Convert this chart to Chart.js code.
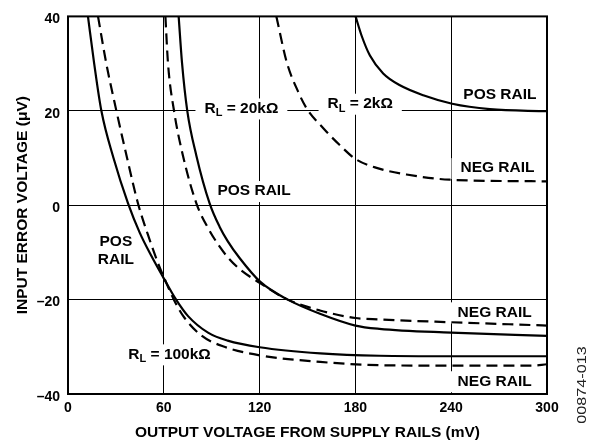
<!DOCTYPE html>
<html>
<head>
<meta charset="utf-8">
<script src="https://cdn.jsdelivr.net/npm/chart.js@4.4.0/dist/chart.umd.min.js"></script>
<style>
  body { margin: 0; background: #fff; }
  canvas { display: block; }
</style>
</head>
<body>
<canvas id="mycanvas" width="590" height="444"></canvas>
<script>
var xTicks = [0, 60, 120, 180, 240, 300];
var yTicks = [-40, -20, 0, 20, 40];

// RL = 100k
var x100kPos = [12.5, 16.4, 20.9, 28.5, 37.6, 44.9, 52, 60, 67.5, 75.2, 87.7, 100, 120, 158, 195, 240, 300];
var y100kPos = [40, 30, 20, 10, 0.4, -5.8, -10.6, -15.5, -19.9, -23.5, -27, -28.7, -30.1, -31.4, -31.9, -32, -32];
var x100kNeg = [18.8, 24, 30.3, 37, 43.8, 50, 57, 61, 66, 72, 83.5, 98, 120, 158, 195, 240, 290, 300];
var y100kNeg = [40, 30, 20, 10, 0.4, -6.2, -12.8, -16, -19.8, -23.4, -27.6, -30, -31.8, -33.2, -33.9, -34, -34, -33.7];

// RL = 20k
var x20kPos = [69.3, 71.4, 74.7, 80.4, 88.7, 95, 100, 107.7, 120.3, 137, 157.8, 180, 195, 240, 300];
var y20kPos = [40, 30.2, 20, 10.5, 0.4, -4.6, -7.6, -11.3, -16.2, -19.9, -23, -25.5, -26.2, -27, -27.7];
var x20kNeg = [61, 62.6, 66.4, 72, 80.4, 88, 95, 100, 107.7, 120.3, 137, 157.8, 180, 195, 240, 300];
var y20kNeg = [40, 30.2, 20, 10.5, 0.4, -5, -8.8, -11, -13.6, -16.5, -19.9, -22.3, -23.9, -24.2, -24.8, -25.5];

// RL = 2k
var x2kPos = [180.1, 183.9, 189.1, 197.4, 207.9, 222.5, 240.6, 264.2, 300];
var y2kPos = [40, 35.9, 31.7, 27.9, 25.4, 23.3, 21.5, 20.35, 19.9];
var x2kNeg = [130.5, 137, 144.2, 149.5, 159.9, 170, 180, 193.3, 212, 239, 300];
var y2kNeg = [40, 30.3, 24, 20.5, 16.3, 12.8, 9.8, 7.9, 6.5, 5.4, 5.05];

// curve labels, placed in data units
var labels = [
    {x: 108.6, y: 20.5, text: ['R', 'L', ' = 20k\u03A9']},
    {x: 183, y: 21.5, text: ['R', 'L', ' = 2k\u03A9']},
    {x: 270.5, y: 23.4, text: ['POS RAIL']},
    {x: 269, y: 7.85, text: ['NEG RAIL']},
    {x: 116.5, y: 3.0, text: ['POS RAIL']},
    {x: 30, y: -7.8, text: ['POS']},
    {x: 30, y: -11.6, text: ['RAIL']},
    {x: 267.2, y: -22.7, text: ['NEG RAIL']},
    {x: 63.6, y: -31.6, text: ['R', 'L', ' = 100k\u03A9']},
    {x: 267.2, y: -37.3, text: ['NEG RAIL']}
];

var FONT = "'Liberation Sans', Arial, sans-serif";
Chart.defaults.font.family = FONT;
Chart.defaults.color = '#000';

function pts(xs, ys) {
    var out = [];
    for (var i in xs) {
        out.push({x: xs[i], y: ys[i]});
    }
    return out;
}

function curve(xs, ys, dashed) {
    return {
        data: pts(xs, ys),
        borderColor: '#000',
        borderWidth: 2.2,
        borderDash: dashed ? [11, 6] : [],
        pointRadius: 0,
        fill: false,
        cubicInterpolationMode: 'monotone'
    };
}

var labelPlugin = {
    id: 'curveLabels',
    beforeDatasetsDraw: function (chart) {
        var ctx = chart.ctx;
        var sx = chart.scales.x, sy = chart.scales.y;
        var big = 'bold 15.5px ' + FONT, small = 'bold 11px ' + FONT;
        ctx.save();
        ctx.textBaseline = 'middle';
        ctx.textAlign = 'left';
        labels.forEach(function (lb) {
            var cx = sx.getPixelForValue(lb.x);
            var cy = sy.getPixelForValue(lb.y);
            var w = 0, widths = [];
            lb.text.forEach(function (t, i) {
                ctx.font = (lb.text.length > 1 && i === 1) ? small : big;
                var m = ctx.measureText(t).width;
                widths.push(m);
                w += m;
            });
            var x0 = cx - w / 2;
            ctx.fillStyle = '#fff';
            ctx.fillRect(x0 - 9, cy - 10, w + 18, 21);
            ctx.fillStyle = '#000';
            var x = x0;
            lb.text.forEach(function (t, i) {
                var sub = lb.text.length > 1 && i === 1;
                ctx.font = sub ? small : big;
                ctx.fillText(t, x, sub ? cy + 5 : cy);
                x += widths[i];
            });
        });
        ctx.restore();
    },
    afterDraw: function (chart) {
        var ctx = chart.ctx, a = chart.chartArea;
        ctx.save();
        ctx.strokeStyle = '#000';
        ctx.lineWidth = 2;
        ctx.strokeRect(a.left, a.top, a.right - a.left, a.bottom - a.top);
        // figure code on the right edge
        ctx.translate(583, 385);
        ctx.rotate(-Math.PI / 2);
        ctx.scale(1.35, 1);
        ctx.font = '12px ' + FONT;
        ctx.fillStyle = '#222';
        ctx.textAlign = 'center';
        ctx.textBaseline = 'middle';
        ctx.fillText('00874-013', 0, 0);
        ctx.restore();
    }
};

var ctx = document.getElementById('mycanvas').getContext('2d');
var chart = new Chart(ctx, {
    type: 'line',
    data: {
        datasets: [
            curve(x100kPos, y100kPos, false),
            curve(x100kNeg, y100kNeg, true),
            curve(x20kPos, y20kPos, false),
            curve(x20kNeg, y20kNeg, true),
            curve(x2kPos, y2kPos, false),
            curve(x2kNeg, y2kNeg, true)
        ]
    },
    options: {
        responsive: false,
        animation: false,
        layout: {padding: {left: 0, right: 43, top: 14, bottom: 0}},
        plugins: {legend: {display: false}, tooltip: {enabled: false}},
        scales: {
            x: {
                type: 'linear',
                min: 0,
                max: 300,
                afterBuildTicks: function (s) {
                    s.ticks = xTicks.map(function (v) { return {value: v}; });
                },
                afterFit: function (s) { s.height = 50; },
                ticks: {font: {size: 14, weight: 'bold'}, color: '#000', padding: 6, maxRotation: 0},
                grid: {color: '#000', lineWidth: 1, drawTicks: false},
                border: {display: false},
                title: {
                    display: true,
                    text: 'OUTPUT VOLTAGE FROM SUPPLY RAILS (mV)',
                    font: {size: 15.5, weight: 'bold'},
                    color: '#000',
                    padding: {top: 0, bottom: 2}
                }
            },
            y: {
                min: -40,
                max: 40,
                afterBuildTicks: function (s) {
                    s.ticks = yTicks.map(function (v) { return {value: v}; });
                },
                afterFit: function (s) { s.width = 68; },
                ticks: {
                    font: {size: 14, weight: 'bold'},
                    color: '#000',
                    padding: 8,
                    labelOffset: 3,
                    callback: function (v) { return String(v).replace('-', '\u2013'); }
                },
                grid: {color: '#000', lineWidth: 1, drawTicks: false},
                border: {display: false},
                title: {
                    display: true,
                    text: 'INPUT ERROR VOLTAGE (\u03BCV)',
                    font: {size: 15.5, weight: 'bold'},
                    color: '#000',
                    padding: {top: 13.5, bottom: 0}
                }
            }
        }
    },
    plugins: [labelPlugin]
});
</script>
</body>
</html>
